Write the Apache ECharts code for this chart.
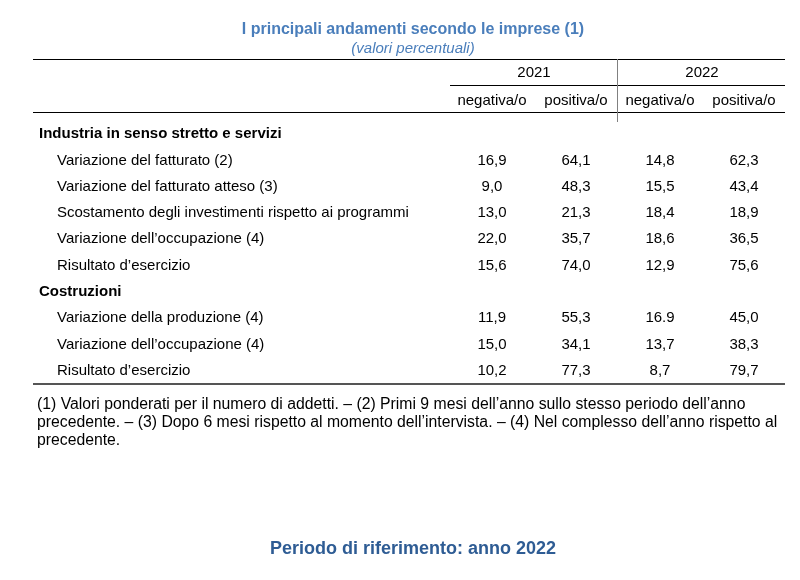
<!DOCTYPE html>
<html>
<head>
<meta charset="utf-8">
<script src="https://cdn.jsdelivr.net/npm/echarts@6/dist/echarts.min.js"></script>
<style>
  html, body { margin: 0; padding: 0; background: #fff; }
  #chart { width: 800px; height: 580px; }
</style>
</head>
<body>
<div id="chart"></div>
<script>
// righe della tabella (g = intestazione di gruppo in grassetto)
var rowLabels = [
  'Industria in senso stretto e servizi',
  'Variazione del fatturato (2)',
  'Variazione del fatturato atteso (3)',
  'Scostamento degli investimenti rispetto ai programmi',
  'Variazione dell\u2019occupazione (4)',
  'Risultato d\u2019esercizio',
  'Costruzioni',
  'Variazione della produzione (4)',
  'Variazione dell\u2019occupazione (4)',
  'Risultato d\u2019esercizio'
];
var groupRows = [0, 6];

var years = ['2021', '2022'];
var colHeads = ['negativa/o', 'positiva/o', 'negativa/o', 'positiva/o'];

// valori percentuali, null sulle righe di gruppo
var neg2021 = [null, '16,9', '9,0', '13,0', '22,0', '15,6', null, '11,9', '15,0', '10,2'];
var pos2021 = [null, '64,1', '48,3', '21,3', '35,7', '74,0', null, '55,3', '34,1', '77,3'];
var neg2022 = [null, '14,8', '15,5', '18,4', '18,6', '12,9', null, '16.9', '13,7', '8,7'];
var pos2022 = [null, '62,3', '43,4', '18,9', '36,5', '75,6', null, '45,0', '38,3', '79,7'];

var noteText = '(1) Valori ponderati per il numero di addetti. \u2013 (2) Primi 9 mesi dell\u2019anno sullo stesso periodo dell\u2019anno\n' +
  'precedente. \u2013 (3) Dopo 6 mesi rispetto al momento dell\u2019intervista. \u2013 (4) Nel complesso dell\u2019anno rispetto al\n' +
  'precedente.';

var font = 'Liberation Sans, Arial, sans-serif';
var cols = [neg2021, pos2021, neg2022, pos2022];
var cells = [];
cols.forEach(function (col, c) {
  col.forEach(function (v, r) {
    if (v !== null) cells.push([c, r, v]);
  });
});

var myChart = echarts.init(document.getElementById('chart'));
myChart.setOption({
  animation: false,
  backgroundColor: '#fff',
  title: [{
    text: 'I principali andamenti secondo le imprese (1)',
    subtext: '(valori percentuali)',
    left: 408,
    top: 17,
    textAlign: 'center',
    itemGap: 3,
    textStyle: { fontFamily: font, fontSize: 16, fontWeight: 'bold', color: '#4a7ebb' },
    subtextStyle: { fontFamily: font, fontSize: 15, fontStyle: 'italic', color: '#4a7ebb' }
  }, {
    text: 'Periodo di riferimento: anno 2022',
    left: 408,
    top: 535,
    textAlign: 'center',
    textStyle: { fontFamily: font, fontSize: 18, fontWeight: 'bold', color: '#2e5c94' }
  }],
  grid: { left: 450, right: 14, top: 121, bottom: 196 },
  xAxis: [{
    type: 'category',
    position: 'top',
    data: colHeads,
    axisLine: { show: false },
    axisTick: { show: false },
    axisLabel: { interval: 0, fontFamily: font, fontSize: 15, color: '#000', margin: 13 }
  }, {
    type: 'category',
    position: 'top',
    offset: 28,
    data: years,
    axisLine: { show: false },
    axisTick: { show: false },
    axisLabel: { interval: 0, fontFamily: font, fontSize: 15, color: '#000', margin: 13 }
  }],
  yAxis: {
    type: 'category',
    inverse: true,
    data: rowLabels,
    axisLine: { show: false },
    axisTick: { show: false },
    axisLabel: {
      interval: 0,
      align: 'left',
      margin: 411,
      formatter: function (v, i) {
        return groupRows.indexOf(i) >= 0 ? '{g|' + v + '}' : '{i|' + v + '}';
      },
      rich: {
        g: { fontFamily: font, fontSize: 15, fontWeight: 'bold', color: '#000' },
        i: { fontFamily: font, fontSize: 15, color: '#000', padding: [0, 0, 0, 18] }
      }
    }
  },
  series: [{
    type: 'custom',
    data: cells,
    renderItem: function (params, api) {
      var p = api.coord([api.value(0), api.value(1)]);
      return {
        type: 'text',
        x: p[0],
        y: p[1],
        style: {
          text: cells[params.dataIndex][2],
          fontFamily: font,
          fontSize: 15,
          fill: '#000',
          align: 'center',
          verticalAlign: 'middle'
        }
      };
    }
  }],
  graphic: [
    { type: 'line', shape: { x1: 33, y1: 59.5, x2: 785, y2: 59.5 }, style: { stroke: '#000', lineWidth: 1 } },
    { type: 'line', shape: { x1: 450, y1: 85.5, x2: 785, y2: 85.5 }, style: { stroke: '#000', lineWidth: 1 } },
    { type: 'line', shape: { x1: 33, y1: 112.5, x2: 785, y2: 112.5 }, style: { stroke: '#000', lineWidth: 1 } },
    { type: 'line', shape: { x1: 617.5, y1: 59, x2: 617.5, y2: 122 }, style: { stroke: '#808080', lineWidth: 1 } },
    { type: 'line', shape: { x1: 33, y1: 384, x2: 785, y2: 384 }, style: { stroke: '#555', lineWidth: 2 } },
    {
      type: 'text',
      left: 37,
      top: 396,
      scaleX: 0.985,
      style: {
        text: noteText,
        fontFamily: font,
        fontSize: 16,
        lineHeight: 18,
        fill: '#000'
      }
    }
  ]
});
</script>
</body>
</html>
